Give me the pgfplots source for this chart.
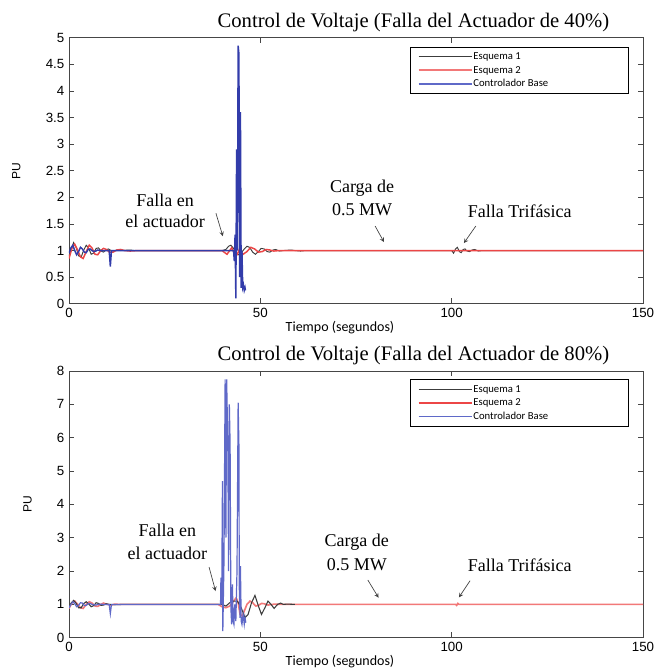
\documentclass[border=0pt]{standalone}
\usepackage{fontspec}
\setmainfont{Liberation Serif}
\newfontfamily\tickfont{Liberation Sans}
\newfontfamily\carl{Carlito}
\usepackage{pgfplots}
\pgfplotsset{compat=1.18}

\definecolor{esqA}{RGB}{60,60,60}
\definecolor{esqB}{RGB}{236,70,70}
\definecolor{esqBlight}{RGB}{242,120,120}
\definecolor{base}{RGB}{50,60,170}
\definecolor{baselight}{RGB}{95,105,200}
\definecolor{frame}{RGB}{70,70,70}

% --- 40 % fault ---
\pgfplotstableread{
t v
0 0.90
0.6 1.02
1.2 1.15
1.9 1.05
2.5 0.90
3.2 0.88
3.8 1.00
4.5 1.10
5.1 1.05
5.8 0.93
6.4 0.95
7.1 1.04
7.7 1.05
8.4 0.99
9 0.97
9.7 1.01
10.3 1.03
11 1.00
11.6 0.99
12.5 1.01
13.5 1.00
16 1.01
17 1.00
40 1.00
41 1.02
41.7 1.08
42.3 1.10
43 1.04
43.6 0.97
44.3 0.92
45 0.95
45.8 1.03
46.5 1.08
47.2 1.06
48 0.97
48.7 0.93
49.5 0.98
50.2 1.04
51 1.03
51.8 0.98
52.5 0.97
53.3 1.01
54 1.02
55 0.99
56 1.00
58 1.01
59 1.00
60.5 0.99
62 1.00
100 1.00
100.5 0.95
101 1.03
101.5 1.06
102 0.98
102.5 0.96
103 1.02
103.5 1.03
104 0.99
104.7 0.98
105.3 1.01
106 1.02
107 0.99
108 1.00
150 1.00
}\esqAtop

\pgfplotstableread{
t v
0 0.85
0.8 1.05
1.5 1.12
2.3 1.00
3 0.88
3.7 0.85
4.5 0.98
5.3 1.10
6 1.05
6.8 0.93
7.5 0.92
8.3 1.00
9 1.04
9.8 1.02
10.5 0.97
11.5 0.97
12.5 1.01
13.5 1.02
14.5 1.00
16 0.99
18 1.00
40 1.00
40.5 0.97
41.3 0.93
42 1.00
42.5 1.05
43 0.98
43.5 0.88
44 0.93
44.5 1.02
45.5 0.93
46.5 0.98
47.5 1.06
48.5 1.03
49.5 0.97
50.5 0.98
51.5 1.02
52.5 1.01
53.5 0.99
55 1.00
150 1.00
}\esqBtop

\pgfplotstableread{
t v
0 0.95
0.5 1.05
1 1.10
1.5 1.00
2 0.92
2.5 0.98
3 1.06
3.5 1.03
4 0.97
4.5 0.96
5 1.02
5.5 1.03
6 1.00
6.5 0.98
7 0.99
7.5 1.01
8 1.00
10.5 1.00
10.8 0.70
11.1 1.00
43 1.00
43.2 0.80
43.4 1.30
43.6 0.10
43.8 2.90
44.0 1.00
44.2 4.85
44.4 4.70
44.6 0.50
44.8 3.60
45.0 0.30
45.2 1.00
45.4 0.30
45.6 0.35
45.8 0.25
46.0 0.30
46.1 0.25
}\basetop

% --- 80 % fault ---
\pgfplotstableread{
t v
0 0.92
0.6 1.05
1.2 1.12
1.9 1.03
2.5 0.90
3.2 0.90
3.8 1.02
4.5 1.08
5.1 1.02
5.8 0.93
6.4 0.96
7.1 1.05
7.7 1.03
8.4 0.97
9 0.98
9.7 1.02
10.5 1.00
12 0.99
14 1.00
40 1.00
41 0.95
42 1.05
43 1.10
44 1.10
45 0.90
46 0.60
46.8 0.70
47.7 1.05
48.6 1.27
49.5 0.95
50.3 0.70
51.2 0.90
52 1.10
52.8 1.00
53.6 0.88
54.5 1.00
55.3 1.04
56 1.00
57 1.01
59 1.00
}\esqAbot

\pgfplotstableread{
t v
0 0.88
0.8 1.05
1.5 1.10
2.3 1.00
3 0.90
3.7 0.88
4.5 1.00
5.3 1.08
6 1.04
6.8 0.95
7.5 0.94
8.3 1.00
9 1.04
10 1.00
11 0.98
12 1.01
13 1.00
39 1.00
40 0.93
41 0.90
42 0.95
43 1.10
43.7 1.20
44.2 1.05
44.7 0.70
45.3 0.65
45.8 0.80
46.5 1.00
47.3 1.10
48 1.05
48.8 0.95
49.5 0.97
50.3 1.03
51 1.02
52 0.98
53 1.00
54 1.01
55 1.00
101 1.00
101.3 0.97
101.6 1.03
101.9 1.00
150 1.00
}\esqBbot

\pgfplotstableread{
t v
0 0.90
0.5 1.00
1 1.08
1.5 1.02
2 0.93
2.5 0.97
3 1.05
3.5 1.04
4 0.97
4.5 0.97
5 1.02
5.5 1.03
6 1.00
7 0.98
8 1.01
9 1.00
10.5 1.00
10.8 0.72
11.1 1.00
39.6 1.00
39.7 1.80
39.9 1.00
40.1 4.70
40.2 0.20
40.5 2.30
40.8 7.75
41.0 3.00
41.2 7.75
41.5 5.80
41.7 2.00
41.9 7.00
42.1 5.80
42.3 0.90
42.5 0.40
42.7 1.60
42.9 0.50
43.1 0.40
43.3 1.00
43.6 0.50
43.9 2.00
44.2 7.05
44.4 5.80
44.5 1.50
44.7 0.60
44.8 2.15
45.0 0.50
45.2 0.40
45.5 0.70
45.8 0.40
46.0 0.60
46.2 0.45
}\basebot

\tikzset{
  annot/.style={font=\fontsize{13.5}{15}\selectfont, align=center, inner sep=0pt},
  arr/.style={-stealth, black!75, line width=0.5pt},
}

% legend sample: a plain 40pt line in the plot's own colour
\pgfplotsset{legend image code/.code={\draw[#1] (0pt,0pt) -- (40pt,0pt);}}

\pgfplotsset{
  matlabstyle/.style={
    scale only axis,
    width=430.5pt,
    xmin=0, xmax=150,
    xtick={0,50,100,150},
    tick align=inside,
    tick pos=both,
    major tick length=4pt,
    axis line style={frame, line width=0.6pt},
    tick style={frame, line width=0.5pt},
    ticklabel style={font=\tickfont\fontsize{10}{11}\selectfont},
    /pgf/number format/assume math mode=true,
    xlabel={Tiempo (segundos)},
    xlabel style={font=\carl\fontsize{10.5}{12}\selectfont, xshift=-12pt, yshift=4pt},
    ylabel={PU},
    ylabel style={font=\tickfont\fontsize{9}{10}\selectfont, at={(ticklabel cs:0.5,12pt)}},
    title style={font=\fontsize{15.5}{18}\selectfont, at={(0.6,1)}, anchor=center, yshift=5.5pt},
    legend cell align=left,
    legend style={at={(1,1)}, anchor=north east, xshift=-10.5pt, yshift=-6.6pt,
      font=\carl\fontsize{8}{9}\selectfont,
      inner xsep=6pt, inner ysep=3pt, row sep=1.8pt,
      nodes={inner sep=0.5pt, text height=6pt, text depth=1.5pt}},
  }
}

\begin{document}
\begin{tikzpicture}
\begin{axis}[matlabstyle,
    at={(51.75pt,-227.8pt)}, anchor=south west,
    height=199.5pt,
    ymin=0, ymax=5, ytick={0,0.5,...,5},
    yticklabels={0,0.5,1,1.5,2,2.5,3,3.5,4,4.5,5},
    title={Control de Voltaje (Falla del Actuador de 40\%)}]
\addlegendimage{esqA, line width=0.9pt}
\addlegendentry{\makebox[110pt][l]{Esquema 1}}
\addlegendimage{esqBlight, line width=1.2pt}
\addlegendentry{\makebox[110pt][l]{Esquema 2}}
\addlegendimage{baselight, line width=1.2pt}
\addlegendentry{\makebox[110pt][l]{Controlador Base}}
\addplot[esqA, line width=0.7pt, forget plot] table[x=t, y=v] {\esqAtop};
\addplot[esqB, line width=1.1pt, forget plot] table[x=t, y=v] {\esqBtop};
\addplot[base, line width=1.1pt, forget plot] table[x=t, y=v] {\basetop};
\node[annot] at (axis cs:25.1,1.95) {Falla en};
\node[annot] at (axis cs:25.1,1.54) {el actuador};
\draw[arr] (axis cs:38.4,1.70) -- (axis cs:40.2,1.27);
\node[annot] at (axis cs:76.6,2.17) {Carga de};
\node[annot] at (axis cs:76.6,1.76) {0.5 MW};
\draw[arr] (axis cs:80.0,1.46) -- (axis cs:82.3,1.16);
\node[annot] at (axis cs:117.8,1.74) {Falla Trifásica};
\draw[arr] (axis cs:106.3,1.46) -- (axis cs:103.2,1.14);
\end{axis}

\begin{axis}[matlabstyle,
    at={(51.75pt,-478.3pt)}, anchor=south west,
    height=200pt,
    ymin=0, ymax=8, ytick={0,1,...,8},
    legend style={yshift=0.5pt},
    title={Control de Voltaje (Falla del Actuador de 80\%)}]
\addlegendimage{esqA, line width=0.9pt}
\addlegendentry{\makebox[110pt][l]{Esquema 1}}
\addlegendimage{esqB, line width=1.2pt}
\addlegendentry{\makebox[110pt][l]{Esquema 2}}
\addlegendimage{baselight, line width=1.2pt}
\addlegendentry{\makebox[110pt][l]{Controlador Base}}
\addplot[esqBlight, line width=1.2pt, forget plot] table[x=t, y=v] {\esqBbot};
\addplot[esqA, line width=0.8pt, forget plot] table[x=t, y=v] {\esqAbot};
\addplot[baselight, line width=0.9pt, forget plot] table[x=t, y=v] {\basebot};
\node[annot] at (axis cs:25.7,3.21) {Falla en};
\node[annot] at (axis cs:25.7,2.53) {el actuador};
\draw[arr] (axis cs:36.6,2.12) -- (axis cs:38.3,1.40);
\node[annot] at (axis cs:75.2,2.86) {Carga de};
\node[annot] at (axis cs:75.2,2.20) {0.5 MW};
\draw[arr] (axis cs:78.1,1.73) -- (axis cs:80.9,1.20);
\node[annot] at (axis cs:117.8,2.16) {Falla Trifásica};
\draw[arr] (axis cs:104.8,1.71) -- (axis cs:101.9,1.21);
\end{axis}
\pgfresetboundingbox
\path (0pt,0pt) rectangle (492pt,-502.5pt);
\end{tikzpicture}
\end{document}
